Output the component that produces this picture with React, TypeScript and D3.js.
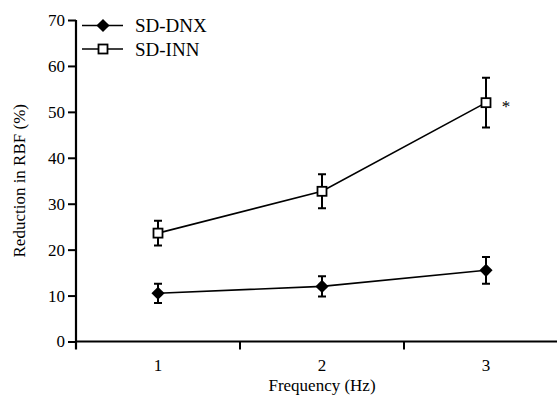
import React, { useRef, useEffect } from "react";
import * as d3 from "d3";

const frequencies = ["1", "2", "3"];
const dnxMean = [10.5, 12.0, 15.5];
const dnxErr = [2.1, 2.2, 2.9];
const innMean = [23.6, 32.7, 52.0];
const innErr = [2.7, 3.7, 5.4];
const yTicks = [0, 10, 20, 30, 40, 50, 60, 70];

const width = 557;
const height = 396;
const margin = { top: 20, right: 0, bottom: 54, left: 76 };
const font = "Liberation Serif";

const App = () => {
    const svgRef = useRef(null);

    useEffect(() => {
        const svg = d3.select(svgRef.current);
        svg.selectAll("*").remove();

        const x = d3.scaleBand().domain(frequencies).range([margin.left, margin.left + 3 * 164]);
        const y = d3.scaleLinear().domain([0, 70]).range([height - margin.bottom - 0.5, margin.top]);

        // y axis
        const yAxis = d3.axisLeft(y).tickValues(yTicks).tickSize(8).tickPadding(3);
        const gy = svg.append("g").attr("transform", "translate(" + margin.left + ",0)").call(yAxis);
        gy.attr("font-family", null).attr("font-size", null);
        gy.select(".domain").attr("stroke", "#000").attr("stroke-width", 2.2).attr("d", "M0," + (y(0) + 8) + "V" + y(70));
        gy.selectAll(".tick line").attr("stroke-width", 2);
        gy.selectAll(".tick text").style("font-family", font).style("font-size", "17px").attr("fill", "#000");

        // x axis: ticks at band edges, labels at band centres
        const y0 = y(0);
        svg.append("line").attr("x1", margin.left).attr("x2", width).attr("y1", y0).attr("y2", y0)
            .attr("stroke", "#000").attr("stroke-width", 2.2);
        const edges = frequencies.slice(1).map(f => x(f));
        svg.selectAll(".xtick").data(edges).enter().append("line")
            .attr("x1", d => d).attr("x2", d => d).attr("y1", y0).attr("y2", y0 + 8)
            .attr("stroke", "#000").attr("stroke-width", 2);
        svg.selectAll(".xlab").data(frequencies).enter().append("text")
            .attr("x", d => x(d) + x.bandwidth() / 2).attr("y", 371)
            .attr("text-anchor", "middle").style("font-family", font).style("font-size", "17px")
            .text(d => d);

        svg.append("text").attr("x", 322).attr("y", 391).attr("text-anchor", "middle")
            .style("font-family", font).style("font-size", "17px").text("Frequency (Hz)");
        svg.append("text").attr("transform", "translate(25," + ((y(0) + y(70)) / 2) + ") rotate(-90)")
            .attr("text-anchor", "middle").style("font-family", font).style("font-size", "17px")
            .text("Reduction in RBF (%)");

        const cx = (i) => x(frequencies[i]) + x.bandwidth() / 2;
        const lineGen = d3.line().x((d, i) => cx(i)).y(d => y(d));

        const series = [
            { mean: dnxMean, err: dnxErr, marker: "diamond" },
            { mean: innMean, err: innErr, marker: "square" }
        ];

        series.forEach(s => {
            svg.append("path").attr("d", lineGen(s.mean)).attr("fill", "none")
                .attr("stroke", "#000").attr("stroke-width", 1.6);
            s.mean.forEach((m, i) => {
                const px = cx(i);
                const top = y(m + s.err[i]);
                const bot = y(m - s.err[i]);
                svg.append("path")
                    .attr("d", "M" + px + "," + top + "V" + bot + "M" + (px - 4) + "," + top + "H" + (px + 4) + "M" + (px - 4) + "," + bot + "H" + (px + 4))
                    .attr("stroke", "#000").attr("stroke-width", 2).attr("fill", "none");
            });
            s.mean.forEach((m, i) => {
                const px = cx(i);
                const py = y(m);
                if (s.marker === "diamond") {
                    svg.append("path").attr("d", d3.symbol(d3.symbolDiamond2, 110)()).attr("transform", "translate(" + px + "," + py + ")")
                        .attr("fill", "#000");
                } else {
                    svg.append("rect").attr("x", px - 4.5).attr("y", py - 4.5).attr("width", 9).attr("height", 9)
                        .attr("fill", "#fff").attr("stroke", "#000").attr("stroke-width", 1.8);
                }
            });
        });

        // significance marker
        svg.append("text").attr("x", cx(2) + 20).attr("y", y(innMean[2]) + 9).attr("text-anchor", "middle")
            .attr("fill", "#000").style("font-family", font).style("font-size", "17px").text("*");

        // legend
        const legend = [
            { name: "SD-DNX", marker: "diamond", ly: 25.5 },
            { name: "SD-INN", marker: "square", ly: 49 }
        ];
        legend.forEach(l => {
            svg.append("line").attr("x1", 82).attr("x2", 123).attr("y1", l.ly).attr("y2", l.ly)
                .attr("stroke", "#000").attr("stroke-width", 1.6);
            if (l.marker === "diamond") {
                svg.append("path").attr("d", d3.symbol(d3.symbolDiamond2, 110)()).attr("transform", "translate(103," + l.ly + ")")
                    .attr("fill", "#000");
            } else {
                svg.append("rect").attr("x", 98.5).attr("y", l.ly - 4.5).attr("width", 9).attr("height", 9)
                    .attr("fill", "#fff").attr("stroke", "#000").attr("stroke-width", 1.8);
            }
            svg.append("text").attr("x", 135).attr("y", l.ly + 6.5).style("font-family", font).style("font-size", "19px")
                .text(l.name);
        });
    }, []);

    return (
        <svg ref={svgRef} width={width} height={height}
            style={{ position: "absolute", left: 0, top: 0, background: "#fff" }}>
        </svg>
    );
};

export default App;
